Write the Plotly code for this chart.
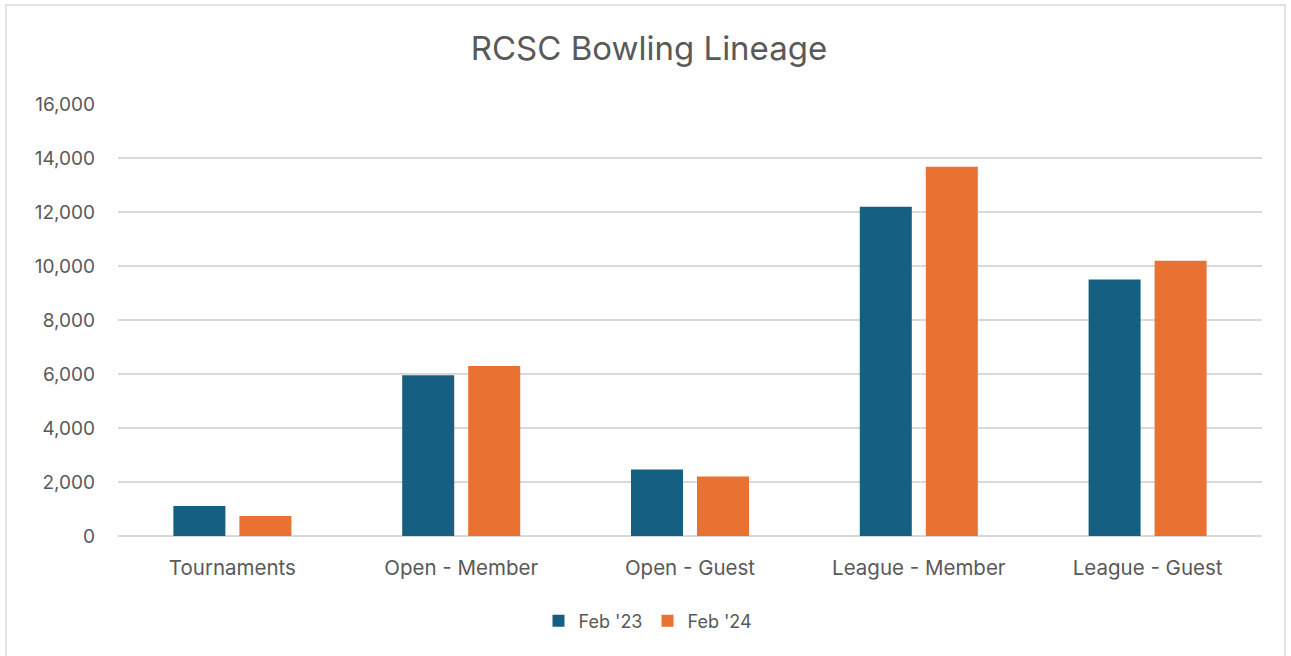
import plotly.graph_objects as go

categories = ["Tournaments", "Open - Member", "Open - Guest", "League - Member", "League - Guest"]
feb23 = [1110, 5950, 2460, 12190, 9500]
feb24 = [740, 6300, 2200, 13680, 10190]
series_names = ["Feb '23", "Feb '24"]
tick_vals = [0, 2000, 4000, 6000, 8000, 10000, 12000, 14000, 16000]

FONT = "Inter"
TXT = "#595959"

fig = go.Figure()
fig.add_trace(go.Bar(x=categories, y=feb23, name=series_names[0], marker=dict(color="#156082", line=dict(width=0))))
fig.add_trace(go.Bar(x=categories, y=feb24, name=series_names[1], marker=dict(color="#E97132", line=dict(width=0))))

L, R, T, B = 118, 29, 104, 120
W, H = 1291, 656
pw, ph = W - L - R, H - T - B

def px(x):
    return (x - L) / pw

def py(y):
    return (H - B - y) / ph

fig.update_layout(
    width=W, height=H,
    margin=dict(l=L, r=R, t=T, b=B),
    paper_bgcolor="white", plot_bgcolor="white",
    barmode="group", bargap=0.423, bargroupgap=0.212,
    font=dict(family=FONT, color=TXT, size=18),
    title=dict(text="RCSC Bowling Lineage", xref="container", x=649 / W, xanchor="center",
               yref="container", y=1 - 48 / H, yanchor="middle",
               font=dict(family=FONT, size=33, color=TXT)),
    xaxis=dict(showgrid=False, showline=False, ticks="", tickfont=dict(size=20.5, color=TXT), ticklabelstandoff=17),
    yaxis=dict(range=[0, 16000], tickvals=tick_vals, tickformat=",d", showgrid=True, gridcolor="#d9d9d9", gridwidth=1.5,
               zeroline=True, zerolinecolor="#d9d9d9", zerolinewidth=1.5, showline=False, ticks="",
               tickfont=dict(size=19, color=TXT), ticklabelstandoff=22),
    legend=dict(orientation="h", x=px(648), xanchor="center", y=py(621), yanchor="middle",
                font=dict(size=18, color=TXT), itemwidth=30, traceorder="normal"),
    shapes=[dict(type="rect", xref="paper", yref="paper", x0=px(6), x1=px(1285), y0=py(662), y1=py(5),
                 line=dict(color="#d9d9d9", width=1.5), fillcolor="rgba(0,0,0,0)", layer="below")],
)

fig.write_html("out.html")
